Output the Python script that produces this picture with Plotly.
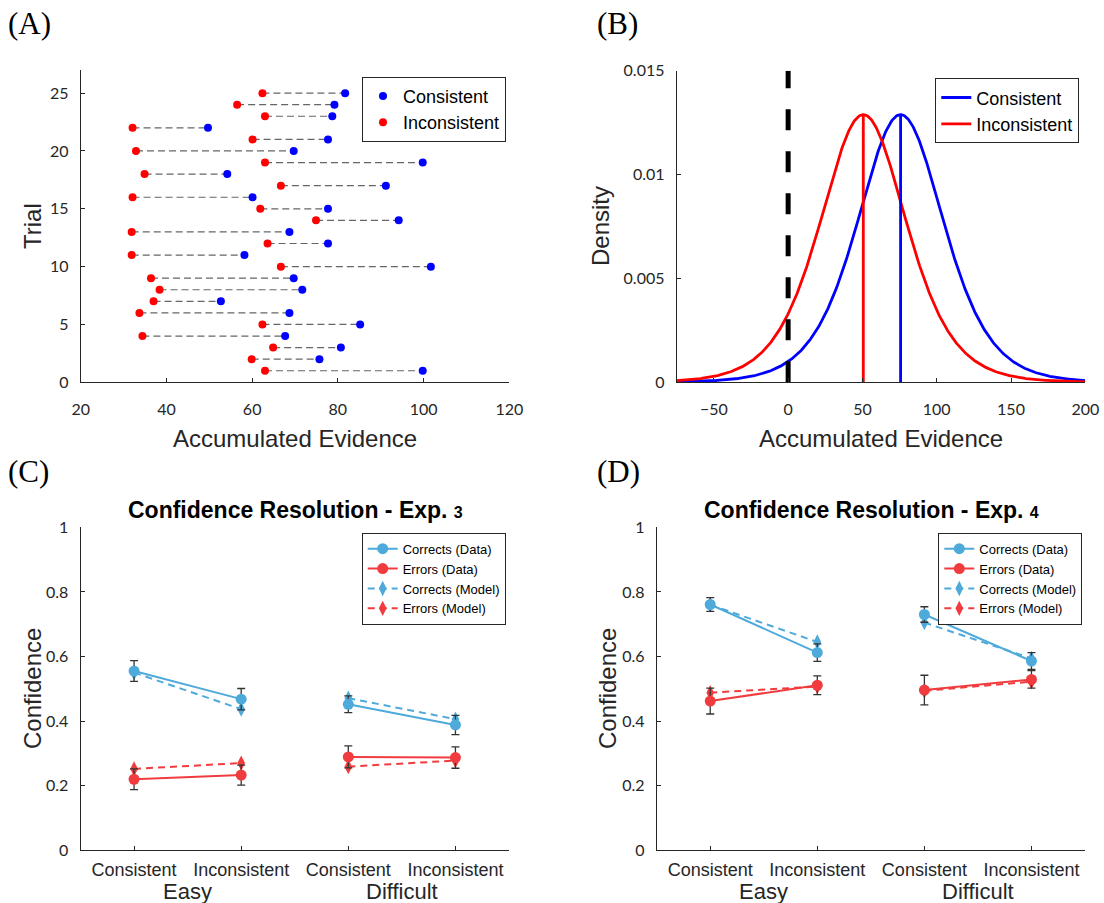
import numpy as np
import plotly.graph_objects as go

W, H = 1104, 903

# ---------------- data ----------------
# (A) accumulated evidence per trial
trials = list(range(1, 26))
consistent_ev = [99.8, 75.7, 80.7, 67.7, 85.2, 68.7, 52.7, 71.7, 69.7, 101.7,
                 58.2, 77.7, 68.7, 94.2, 77.7, 60.1, 91.2, 54.2, 99.8, 69.7,
                 77.7, 49.7, 78.7, 79.2, 81.7]
inconsistent_ev = [63.0, 59.9, 64.9, 34.4, 62.4, 33.7, 37.0, 38.4, 36.4, 66.7,
                   31.9, 63.6, 31.9, 74.9, 61.9, 32.1, 66.7, 34.9, 63.0, 32.9,
                   60.1, 32.1, 63.0, 56.5, 62.4]

# (B) logistic densities centred on the mean evidence of each condition
density_scale = 19.4
density_xmin, density_xmax = -75, 200

# (C)/(D) confidence by condition
cond_pos = [1, 2, 3, 4]
cond_labels = ["Consistent", "Inconsistent", "Consistent", "Inconsistent"]
group_labels = ["Easy", "Difficult"]

exp3_correct_data = [0.555, 0.468, 0.452, 0.388]
exp3_correct_sem = [0.032, 0.033, 0.026, 0.030]
exp3_error_data = [0.220, 0.233, 0.289, 0.287]
exp3_error_sem = [0.032, 0.031, 0.034, 0.033]
exp3_correct_model = [0.550, 0.437, 0.471, 0.406]
exp3_error_model = [0.252, 0.270, 0.259, 0.278]

exp4_correct_data = [0.761, 0.612, 0.730, 0.586]
exp4_correct_sem = [0.021, 0.027, 0.024, 0.026]
exp4_error_data = [0.462, 0.511, 0.496, 0.529]
exp4_error_sem = [0.040, 0.029, 0.046, 0.027]
exp4_correct_model = [0.760, 0.645, 0.705, 0.594]
exp4_error_model = [0.488, 0.507, 0.494, 0.522]

# ---------------- styling helpers ----------------
AX = "#262626"
TICK_FONT = dict(family="Lato, Carlito, sans-serif", size=16, color=AX)
LABEL_FONT = dict(family="Arial, Liberation Sans, sans-serif", size=24, color=AX)
BLUE_C, RED_C = "#4DAADB", "#F03C3F"


def fx(px):
    return px / W


def fy(py):
    return 1 - py / H


def axis_style(**kw):
    d = dict(showline=True, linecolor=AX, linewidth=1, ticks="inside", ticklen=4,
             tickcolor=AX, showgrid=False, zeroline=False, tickfont=TICK_FONT,
             automargin=False)
    d.update(kw)
    return d


def split_groups(vals):
    # Easy and Difficult are drawn as separate line segments
    return [vals[0], vals[1], None, vals[2], vals[3]]


fig = go.Figure()

# ---------------- (A) ----------------
seg_x, seg_y = [], []
for t, c, i in zip(trials, consistent_ev, inconsistent_ev):
    seg_x += [i, c, None]
    seg_y += [t, t, None]
fig.add_trace(go.Scatter(x=seg_x, y=seg_y, mode="lines", xaxis="x", yaxis="y",
                         line=dict(color="#666666", width=1.2, dash="7px,4px"),
                         showlegend=False, hoverinfo="skip"))
fig.add_trace(go.Scatter(x=consistent_ev, y=trials, mode="markers", name="Consistent",
                         xaxis="x", yaxis="y", marker=dict(color="#0000FF", size=8),
                         legend="legend"))
fig.add_trace(go.Scatter(x=inconsistent_ev, y=trials, mode="markers", name="Inconsistent",
                         xaxis="x", yaxis="y", marker=dict(color="#FF0000", size=8),
                         legend="legend"))

# ---------------- (B) ----------------
xs = np.linspace(density_xmin, density_xmax, 600)


def logistic_pdf(x, mu, s):
    z = np.exp(-(x - mu) / s)
    return z / (s * (1 + z) ** 2)


mu_c = float(np.mean(consistent_ev))
mu_i = float(np.mean(inconsistent_ev))
for mu, name, col in [(mu_c, "Consistent", "#0000FF"), (mu_i, "Inconsistent", "#FF0000")]:
    fig.add_trace(go.Scatter(x=xs, y=logistic_pdf(xs, mu, density_scale), mode="lines",
                             name=name, xaxis="x2", yaxis="y2",
                             line=dict(color=col, width=2.8), legend="legend2"))
for mu, col in [(mu_c, "#0000FF"), (mu_i, "#FF0000")]:
    fig.add_trace(go.Scatter(x=[mu, mu], y=[0, logistic_pdf(mu, mu, density_scale)],
                             mode="lines", xaxis="x2", yaxis="y2", showlegend=False,
                             line=dict(color=col, width=2.8), hoverinfo="skip"))
fig.add_trace(go.Scatter(x=[0, 0], y=[0, 0.015], mode="lines", xaxis="x2", yaxis="y2",
                         showlegend=False, line=dict(color="black", width=5, dash="21px,21px"),
                         hoverinfo="skip"))

# ---------------- (C) and (D) ----------------
panels = [
    ("x3", "y3", "legend3", exp3_correct_data, exp3_correct_sem, exp3_error_data,
     exp3_error_sem, exp3_correct_model, exp3_error_model),
    ("x4", "y4", "legend4", exp4_correct_data, exp4_correct_sem, exp4_error_data,
     exp4_error_sem, exp4_correct_model, exp4_error_model),
]
xg = split_groups(cond_pos)
for xa, ya, lg, cd, cs, ed, es, cm, em in panels:
    # model curves underneath
    fig.add_trace(go.Scatter(x=xg, y=split_groups(cm), mode="lines+markers", name="Corrects (Model)",
                             xaxis=xa, yaxis=ya, legend=lg, legendrank=3,
                             line=dict(color=BLUE_C, width=2, dash="7px,5px"),
                             marker=dict(symbol="diamond-tall", size=11, color=BLUE_C)))
    fig.add_trace(go.Scatter(x=xg, y=split_groups(em), mode="lines+markers", name="Errors (Model)",
                             xaxis=xa, yaxis=ya, legend=lg, legendrank=4,
                             line=dict(color=RED_C, width=2, dash="7px,5px"),
                             marker=dict(symbol="diamond-tall", size=11, color=RED_C)))
    # observed data with error bars
    fig.add_trace(go.Scatter(x=xg, y=split_groups(cd), mode="lines+markers", name="Corrects (Data)",
                             xaxis=xa, yaxis=ya, legend=lg, legendrank=1,
                             line=dict(color=BLUE_C, width=2),
                             marker=dict(symbol="circle", size=11, color=BLUE_C),
                             error_y=dict(type="data", array=split_groups(cs), color="#333333",
                                          thickness=1.3, width=4)))
    fig.add_trace(go.Scatter(x=xg, y=split_groups(ed), mode="lines+markers", name="Errors (Data)",
                             xaxis=xa, yaxis=ya, legend=lg, legendrank=2,
                             line=dict(color=RED_C, width=2),
                             marker=dict(symbol="circle", size=11, color=RED_C),
                             error_y=dict(type="data", array=split_groups(es), color="#333333",
                                          thickness=1.3, width=4)))

# ---------------- layout ----------------
legend_common = dict(bgcolor="white", bordercolor=AX, borderwidth=1, xanchor="right",
                     yanchor="top", traceorder="normal", tracegroupgap=0)

cat_axis = dict(range=[0.5, 4.5], tickvals=cond_pos, ticktext=cond_labels,
                tickfont=dict(family="Arial, Liberation Sans, sans-serif", size=18, color=AX),
                ticklabelstandoff=3)
conf_axis = dict(range=[0, 1], tickvals=[0, 0.2, 0.4, 0.6, 0.8, 1],
                 ticktext=["0", "0.2", "0.4", "0.6", "0.8", "1"], ticklabelstandoff=8)

fig.update_layout(
    template="none",
    width=W, height=H, margin=dict(l=0, r=0, t=0, b=0, pad=0, autoexpand=False),
    paper_bgcolor="white", plot_bgcolor="white", showlegend=True,
    xaxis=axis_style(domain=[fx(80.7), fx(509.3)], range=[20, 120], tickvals=[20, 40, 60, 80, 100, 120],
                     anchor="y", ticklabelstandoff=12),
    yaxis=axis_style(domain=[fy(382.3), fy(70)], range=[0, 27], tickvals=[0, 5, 10, 15, 20, 25],
                     anchor="x", ticklabelstandoff=8),
    xaxis2=axis_style(domain=[fx(676.7), fx(1085.3)], range=[density_xmin, density_xmax],
                      tickvals=[-50, 0, 50, 100, 150, 200], anchor="y2", ticklabelstandoff=12),
    yaxis2=axis_style(domain=[fy(382.3), fy(70.7)], range=[0, 0.015],
                      tickvals=[0, 0.005, 0.01, 0.015], ticktext=["0", "0.005", "0.01", "0.015"],
                      anchor="x2", ticklabelstandoff=8),
    xaxis3=axis_style(domain=[fx(80.5), fx(509)], anchor="y3", **cat_axis),
    yaxis3=axis_style(domain=[fy(850.3), fy(527.3)], anchor="x3", **conf_axis),
    xaxis4=axis_style(domain=[fx(656.7), fx(1085)], anchor="y4", **cat_axis),
    yaxis4=axis_style(domain=[fy(850.3), fy(527.3)], anchor="x4", **conf_axis),
    legend=dict(legend_common, x=fx(506), y=fy(76.7),
                font=dict(family="Arial, Liberation Sans, sans-serif", size=18, color="black")),
    legend2=dict(legend_common, x=fx(1079.3), y=fy(78.3),
                 font=dict(family="Arial, Liberation Sans, sans-serif", size=18, color="black")),
    legend3=dict(legend_common, x=fx(505.7), y=fy(532.7),
                 font=dict(family="Arial, Liberation Sans, sans-serif", size=13, color="black")),
    legend4=dict(legend_common, x=fx(1082.3), y=fy(532.7),
                 font=dict(family="Arial, Liberation Sans, sans-serif", size=13, color="black")),
)

annotations = []


def text(x, y, s, font, angle=0, xanchor="center", xref="paper"):
    annotations.append(dict(x=x, y=y, xref=xref, yref="paper", text=s, showarrow=False,
                            font=font, textangle=angle, xanchor=xanchor, yanchor="middle"))


letter_font = dict(family="Liberation Serif, Times New Roman, serif", size=31, color="black")
text(fx(6), fy(24), "(A)", letter_font, xanchor="left")
text(fx(595), fy(24), "(B)", letter_font, xanchor="left")
text(fx(6), fy(471), "(C)", letter_font, xanchor="left")
text(fx(595), fy(471), "(D)", letter_font, xanchor="left")

text(fx(295), fy(438), "Accumulated Evidence", LABEL_FONT)
text(fx(881), fy(438), "Accumulated Evidence", LABEL_FONT)
text(fx(33), fy(226), "Trial", LABEL_FONT, angle=-90)
text(fx(601), fy(226), "Density", LABEL_FONT, angle=-90)
text(fx(32), fy(689), "Confidence", LABEL_FONT, angle=-90)
text(fx(607), fy(689), "Confidence", LABEL_FONT, angle=-90)

title_font = dict(family="Arial, Liberation Sans, sans-serif", size=23, color="black")
text(fx(295), fy(510), "<b>Confidence Resolution - Exp. <span style='font-size:16px'>3</span></b>", title_font)
text(fx(871), fy(510), "<b>Confidence Resolution - Exp. <span style='font-size:16px'>4</span></b>", title_font)

group_font = dict(family="Arial, Liberation Sans, sans-serif", size=22, color=AX)
for xa in ["x3", "x4"]:
    text(np.mean(cond_pos[0:2]), fy(891), group_labels[0], group_font, xref=xa)
    text(np.mean(cond_pos[2:4]), fy(891), group_labels[1], group_font, xref=xa)

fig.update_layout(annotations=annotations)

fig.write_html("out.html")
